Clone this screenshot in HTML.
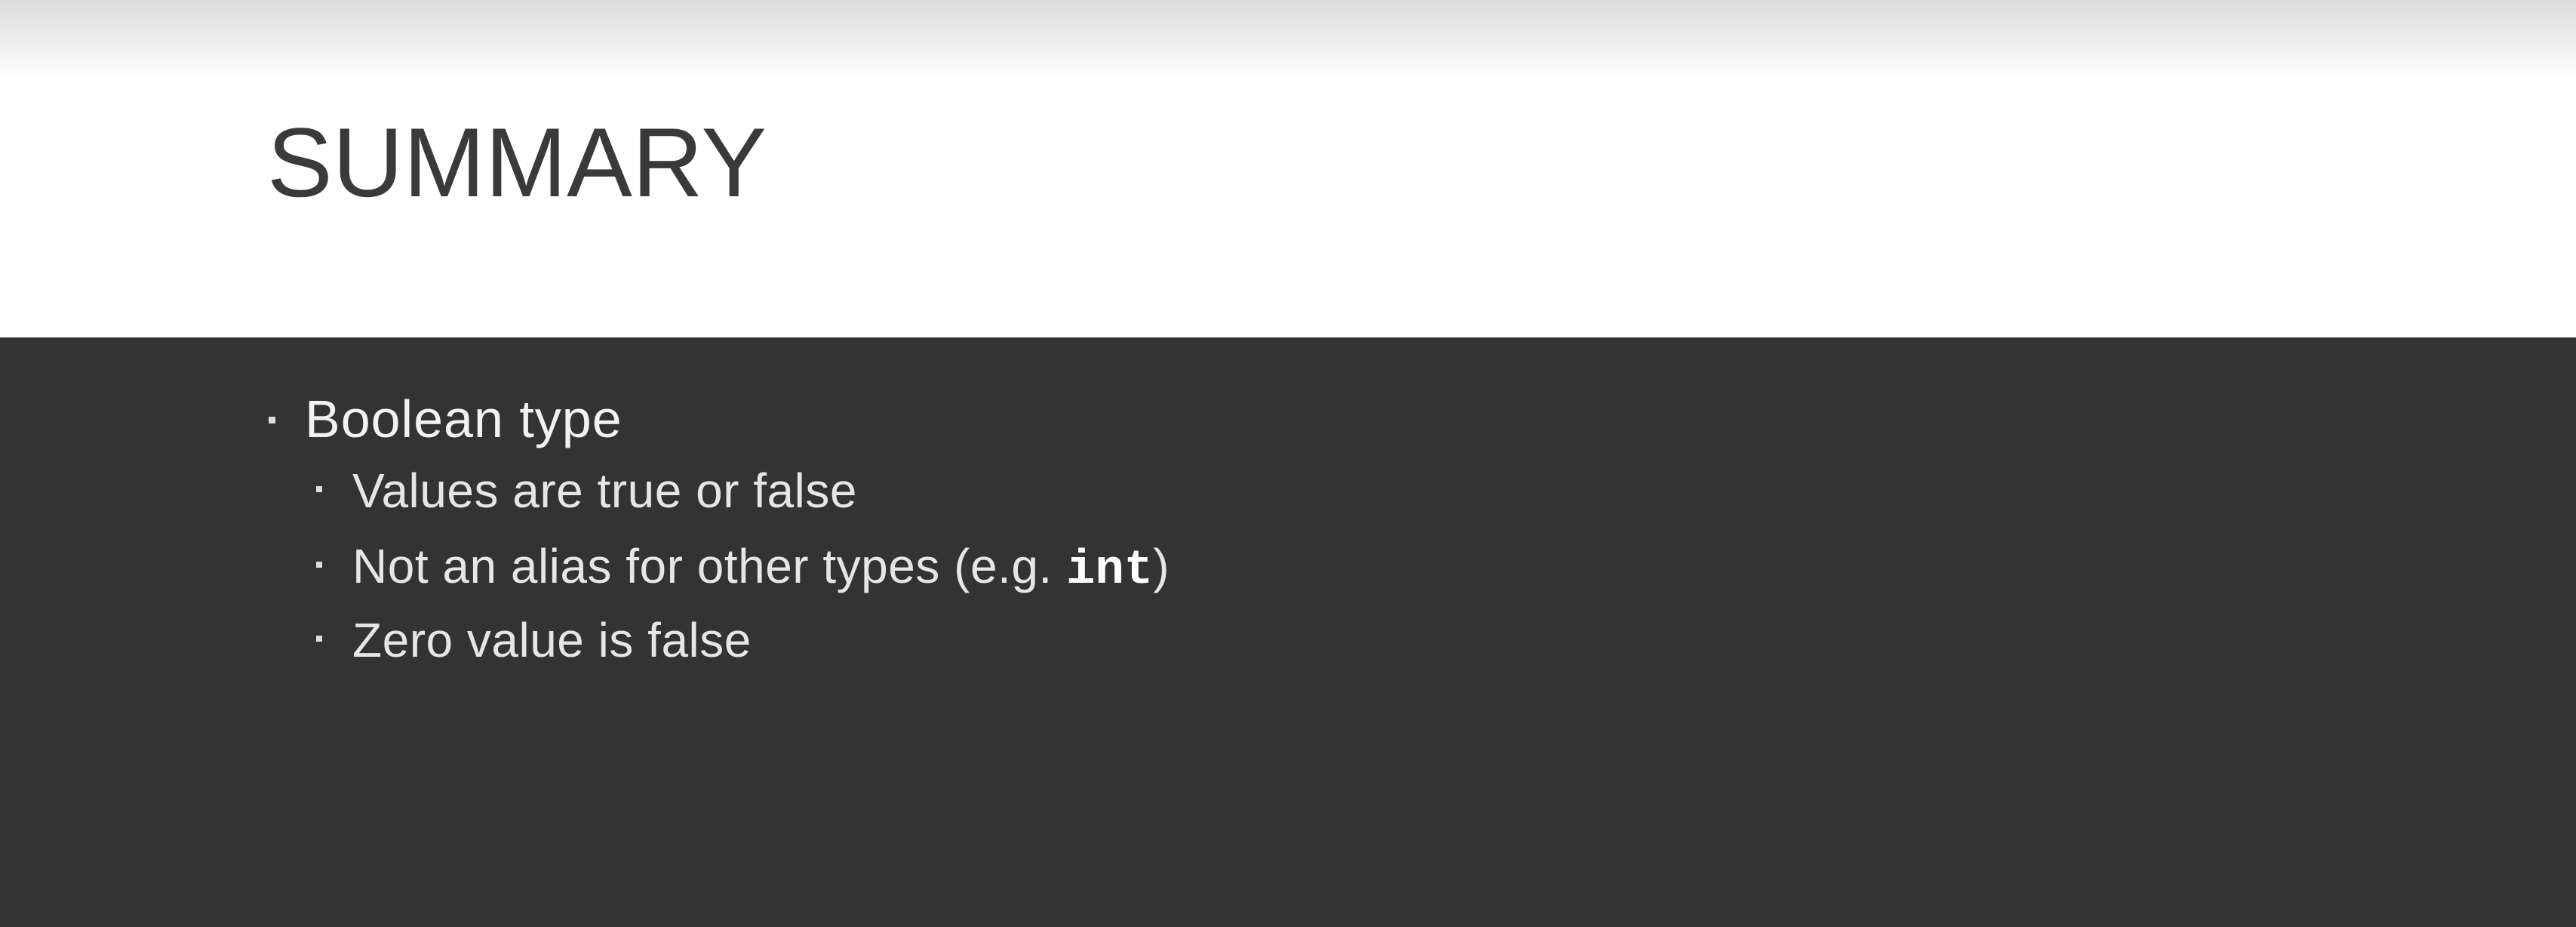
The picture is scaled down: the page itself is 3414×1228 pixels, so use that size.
<!DOCTYPE html>
<html><head><style>
html,body{margin:0;padding:0}
body{width:3414px;height:1228px;position:relative;overflow:hidden;background:#fff;font-family:"Liberation Sans",sans-serif}
.top{position:absolute;left:0;top:0;width:3414px;height:100px;background:linear-gradient(#dcdcdc,#fdfdfd)}
.band{position:absolute;left:0;top:447px;width:3414px;height:781px;background:#333}
.t{position:absolute;white-space:nowrap;line-height:1}
.title{left:354px;top:150px;font-size:130px;color:#3a3a3a}
.l1{font-size:70px;color:#f2f2f2;letter-spacing:1px}
.l2{font-size:64px;color:#e6e6e6;letter-spacing:0.5px}
.b{position:absolute;background:#ddd}
code{font-family:"Liberation Mono",monospace;font-weight:bold;color:#fff;letter-spacing:0}
</style></head><body>
<div class="top"></div>
<div class="t title">SUMMARY</div>
<div class="band"></div>
<div class="b" style="left:356px;top:552px;width:9px;height:9px"></div>
<div class="t l1" style="left:404px;top:520px">Boolean type</div>
<div class="b" style="left:419px;top:644px;width:8px;height:8px"></div>
<div class="t l2" style="left:467px;top:618px">Values are true or false</div>
<div class="b" style="left:419px;top:744px;width:8px;height:8px"></div>
<div class="t l2" style="left:467px;top:718px">Not an alias for other types (e.g. <code>int</code>)</div>
<div class="b" style="left:419px;top:842px;width:8px;height:8px"></div>
<div class="t l2" style="left:467px;top:816px">Zero value is false</div>
</body></html>
